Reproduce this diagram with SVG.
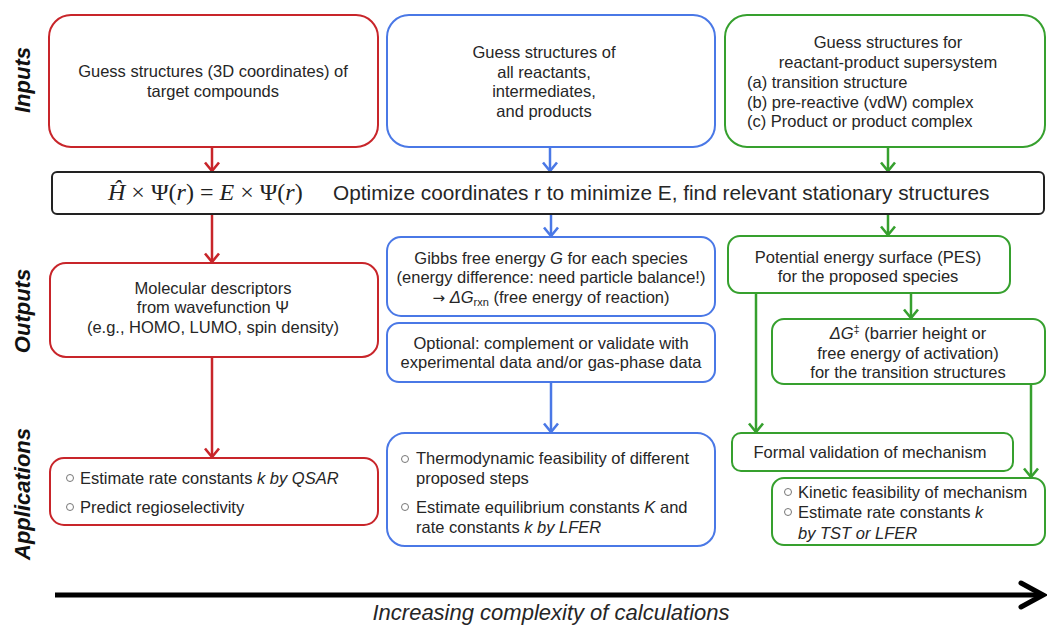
<svg xmlns="http://www.w3.org/2000/svg" width="1047" height="627" viewBox="0 0 1047 627">
<style>
.t{font-family:"Liberation Sans",Arial,sans-serif;font-size:16.5px;fill:#262626}
.c{text-anchor:middle}
.i{font-style:italic}
.lab{font-family:"Liberation Sans",Arial,sans-serif;font-size:22px;font-weight:bold;font-style:italic;fill:#111;text-anchor:middle}
.r{fill:#fff;stroke:#c8252a;stroke-width:2}
.b{fill:#fff;stroke:#4a78e6;stroke-width:2}
.g{fill:#fff;stroke:#36a02e;stroke-width:2}
.lr{stroke:#c8252a;stroke-width:2.5;fill:none}
.lb{stroke:#4a78e6;stroke-width:2.5;fill:none}
.lg{stroke:#36a02e;stroke-width:2.5;fill:none}
.bul{fill:none;stroke:#777;stroke-width:1}
.eq{font-family:"Liberation Serif","Times New Roman",serif;font-size:24px;fill:#222}
</style>
<defs>
<marker id="mr" viewBox="0 0 12 16" refX="10.5" refY="8" markerWidth="12" markerHeight="16" orient="auto" markerUnits="userSpaceOnUse"><path d="M2,1 L10.5,8 L2,15" fill="none" stroke="#c8252a" stroke-width="2.6"/></marker>
<marker id="mb" viewBox="0 0 12 16" refX="10.5" refY="8" markerWidth="12" markerHeight="16" orient="auto" markerUnits="userSpaceOnUse"><path d="M2,1 L10.5,8 L2,15" fill="none" stroke="#4a78e6" stroke-width="2.6"/></marker>
<marker id="mg" viewBox="0 0 12 16" refX="10.5" refY="8" markerWidth="12" markerHeight="16" orient="auto" markerUnits="userSpaceOnUse"><path d="M2,1 L10.5,8 L2,15" fill="none" stroke="#36a02e" stroke-width="2.6"/></marker>
</defs>

<g id="row-labels">
<text class="lab" transform="translate(30,80) rotate(-90)">Inputs</text>
<text class="lab" transform="translate(30,311) rotate(-90)">Outputs</text>
<text class="lab" transform="translate(30,494) rotate(-90)">Applications</text>
</g>

<g id="connectors">
<line class="lr" x1="212" y1="147" x2="212" y2="171" marker-end="url(#mr)"/>
<line class="lb" x1="550" y1="147" x2="550" y2="171" marker-end="url(#mb)"/>
<line class="lg" x1="888" y1="147" x2="888" y2="171" marker-end="url(#mg)"/>
<line class="lr" x1="212" y1="214" x2="212" y2="262" marker-end="url(#mr)"/>
<line class="lb" x1="551" y1="214" x2="551" y2="236" marker-end="url(#mb)"/>
<line class="lg" x1="888" y1="214" x2="888" y2="235" marker-end="url(#mg)"/>
<line class="lr" x1="212" y1="357" x2="212" y2="457" marker-end="url(#mr)"/>
<line class="lb" x1="551" y1="382" x2="551" y2="432" marker-end="url(#mb)"/>
<line class="lg" x1="911" y1="293" x2="911" y2="318" marker-end="url(#mg)"/>
<line class="lg" x1="756" y1="293" x2="756" y2="432" marker-end="url(#mg)"/>
<line class="lg" x1="1031" y1="384" x2="1031" y2="477" marker-end="url(#mg)"/>
<line x1="55" y1="595" x2="1040" y2="595" stroke="#000" stroke-width="5"/>
<path d="M1021,583 L1043,595 L1021,607" fill="none" stroke="#000" stroke-width="5" stroke-linecap="round" stroke-linejoin="miter"/>
</g>

<g id="n-red-input">
<rect class="r" x="49" y="15" width="329" height="132" rx="22"/>
<text class="t c" x="213" y="77">Guess structures (3D coordinates) of</text>
<text class="t c" x="213" y="97">target compounds</text>
</g>

<g id="n-blue-input">
<rect class="b" x="387" y="15" width="328" height="132" rx="22"/>
<text class="t c" x="544" y="58">Guess structures of</text>
<text class="t c" x="544" y="78">all reactants,</text>
<text class="t c" x="544" y="97">intermediates,</text>
<text class="t c" x="544" y="117">and products</text>
</g>

<g id="n-green-input">
<rect class="g" x="725" y="15" width="320" height="132" rx="22"/>
<text class="t c" x="888" y="48">Guess structures for</text>
<text class="t c" x="888" y="68">reactant-product supersystem</text>
<text class="t" x="747" y="88">(a) transition structure</text>
<text class="t" x="747" y="108">(b) pre-reactive (vdW) complex</text>
<text class="t" x="747" y="127">(c) Product or product complex</text>
</g>

<g id="n-equation">
<rect x="52" y="172" width="992" height="42" rx="5" fill="#fff" stroke="#222" stroke-width="2"/>
<text class="eq" x="108" y="200"><tspan font-style="italic">Ĥ</tspan> × Ψ(<tspan font-style="italic">r</tspan>) = <tspan font-style="italic">E</tspan> × Ψ(<tspan font-style="italic">r</tspan>)</text>
<text class="t" x="333" y="200" style="font-size:20.8px">Optimize coordinates r to minimize E, find relevant stationary structures</text>
</g>

<g id="n-red-output">
<rect class="r" x="50" y="263" width="328" height="94" rx="16"/>
<text class="t c" x="213" y="294">Molecular descriptors</text>
<text class="t c" x="213" y="313">from wavefunction Ψ</text>
<text class="t c" x="213" y="333">(e.g., HOMO, LUMO, spin density)</text>
</g>

<g id="n-blue-gibbs">
<rect class="b" x="387" y="237" width="328" height="79" rx="14"/>
<text class="t c" x="551" y="264">Gibbs free energy <tspan class="i">G</tspan> for each species</text>
<text class="t c" x="551" y="283">(energy difference: need particle balance!)</text>
<text class="t c" x="551" y="303"><tspan font-family="DejaVu Sans, sans-serif" font-size="15">→</tspan> <tspan class="i">ΔG</tspan><tspan font-size="11" dy="3">rxn</tspan><tspan dy="-3"> (free energy of reaction)</tspan></text>
</g>

<g id="n-blue-optional">
<rect class="b" x="387" y="323" width="328" height="59" rx="12"/>
<text class="t c" x="551" y="349">Optional: complement or validate with</text>
<text class="t c" x="551" y="368">experimental data and/or gas-phase data</text>
</g>

<g id="n-green-pes">
<rect class="g" x="728" y="236" width="282" height="57" rx="12"/>
<text class="t c" x="868" y="263">Potential energy surface (PES)</text>
<text class="t c" x="868" y="282">for the proposed species</text>
</g>

<g id="n-green-barrier">
<rect class="g" x="772" y="319" width="273" height="65" rx="12"/>
<text class="t c" x="908" y="339"><tspan class="i">ΔG</tspan><tspan font-size="11" dy="-6">‡</tspan><tspan dy="6"> (barrier height or</tspan></text>
<text class="t c" x="908" y="359">free energy of activation)</text>
<text class="t c" x="908" y="378">for the transition structures</text>
</g>

<g id="n-red-app">
<rect class="r" x="50" y="458" width="328" height="67" rx="14"/>
<circle class="bul" cx="70" cy="478" r="3.5"/>
<text class="t" x="80" y="484">Estimate rate constants <tspan class="i">k by QSAR</tspan></text>
<circle class="bul" cx="70" cy="507" r="3.5"/>
<text class="t" x="80" y="513">Predict regioselectivity</text>
</g>

<g id="n-blue-app">
<rect class="b" x="387" y="433" width="328" height="113" rx="18"/>
<circle class="bul" cx="405" cy="459" r="3.5"/>
<text class="t" x="416" y="464">Thermodynamic feasibility of different</text>
<text class="t" x="416" y="484">proposed steps</text>
<circle class="bul" cx="405" cy="507" r="3.5"/>
<text class="t" x="416" y="513">Estimate equilibrium constants <tspan class="i">K</tspan> and</text>
<text class="t" x="416" y="533">rate constants <tspan class="i">k by LFER</tspan></text>
</g>

<g id="n-green-formal">
<rect class="g" x="732" y="433" width="281" height="38" rx="9"/>
<text class="t c" x="870" y="458">Formal validation of mechanism</text>
</g>

<g id="n-green-app">
<rect class="g" x="772" y="478" width="273" height="67" rx="12"/>
<circle class="bul" cx="788" cy="492" r="3.5"/>
<text class="t" x="798" y="498">Kinetic feasibility of mechanism</text>
<circle class="bul" cx="788" cy="512" r="3.5"/>
<text class="t" x="798" y="518">Estimate rate constants <tspan class="i">k</tspan></text>
<text class="t i" x="798" y="539">by TST or LFER</text>
</g>

<g id="axis-label">
<text class="t c i" x="551" y="620" style="font-size:22px">Increasing complexity of calculations</text>
</g>
</svg>
